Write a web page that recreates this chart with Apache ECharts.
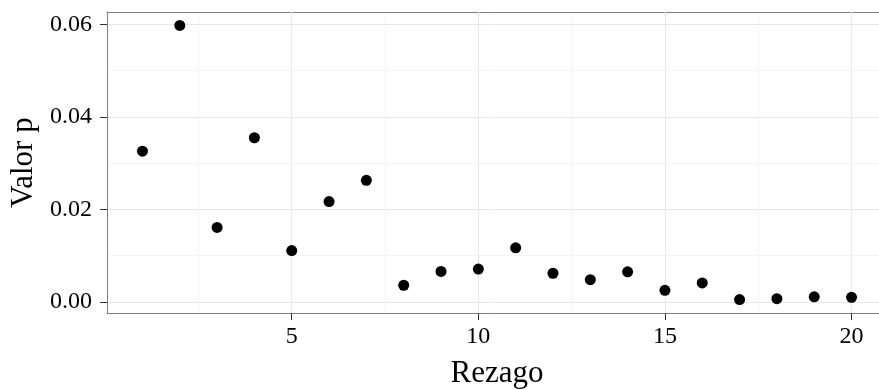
<!DOCTYPE html>
<html>
<head>
    <meta charset="utf-8">
    <title>Valor p por rezago</title>
    <script src="https://cdn.jsdelivr.net/npm/echarts@6/dist/echarts.min.js"></script>
    <style>
        html, body { margin: 0; padding: 0; background: #fff; }
        #chart { width: 879px; height: 390px; }
    </style>
</head>
<body>
    <div id="chart"></div>

    <script type="text/javascript">
        // datos
        var rezagos = [1, 2, 3, 4, 5, 6, 7, 8, 9, 10, 11, 12, 13, 14, 15, 16, 17, 18, 19, 20];
        var valoresP = [0.0326, 0.0598, 0.0161, 0.0355, 0.0111, 0.0217, 0.0263, 0.0036, 0.0066, 0.0071,
                        0.0117, 0.0062, 0.0048, 0.0065, 0.0025, 0.0041, 0.0005, 0.0007, 0.0011, 0.0010];
        var xTicks = [5, 10, 15, 20];
        var xMinor = [2.5, 7.5, 12.5, 17.5];
        var yTicks = [0, 0.02, 0.04, 0.06];
        var yMinor = [0.01, 0.03, 0.05];

        var puntos = [];
        for (var i = 0; i < rezagos.length; i++) {
            puntos.push([rezagos[i], valoresP[i]]);
        }

        var fuente = '"Liberation Serif", "DejaVu Serif", serif';
        var borde = '#7f7f7f';
        var mayor = '#e8e8e8';
        var menor = '#f4f4f4';

        var myChart = echarts.init(document.getElementById('chart'));

        myChart.setOption({
            animation: false,
            grid: {
                left: 107,
                top: 12,
                width: 780,
                height: 301,
                containLabel: false,
                outerBoundsMode: 'none'
            },
            xAxis: [
                {
                    type: 'value',
                    min: 0.05,
                    max: 20.95,
                    name: 'Rezago',
                    nameLocation: 'middle',
                    nameGap: 45,
                    nameTextStyle: { fontFamily: fuente, fontSize: 31, color: '#000' },
                    axisLine: { show: true, onZero: false, lineStyle: { color: borde, width: 1 } },
                    splitLine: { show: true, lineStyle: { color: mayor, width: 1 } },
                    axisTick: {
                        show: true,
                        customValues: xTicks,
                        length: 7,
                        lineStyle: { color: '#333', width: 1 }
                    },
                    axisLabel: {
                        customValues: xTicks,
                        margin: 12,
                        fontFamily: fuente,
                        fontSize: 24,
                        color: '#000'
                    },
                    z: 2
                },
                {
                    // borde superior y lineas menores verticales
                    type: 'value',
                    position: 'top',
                    min: 0.05,
                    max: 20.95,
                    axisLine: { show: true, onZero: false, lineStyle: { color: borde, width: 1 } },
                    axisTick: { show: false, customValues: xMinor },
                    axisLabel: { show: false, customValues: xMinor },
                    splitLine: { show: true, lineStyle: { color: menor, width: 1 } },
                    z: 1
                }
            ],
            yAxis: [
                {
                    type: 'value',
                    min: -0.0024,
                    max: 0.0627,
                    name: 'Valor p',
                    nameLocation: 'middle',
                    nameRotate: 90,
                    nameGap: 67,
                    nameTextStyle: { fontFamily: fuente, fontSize: 31, color: '#000' },
                    axisLine: { show: true, onZero: false, lineStyle: { color: borde, width: 1 } },
                    splitLine: { show: true, lineStyle: { color: mayor, width: 1 } },
                    axisTick: {
                        show: true,
                        customValues: yTicks,
                        length: 7,
                        lineStyle: { color: '#333', width: 1 }
                    },
                    axisLabel: {
                        customValues: yTicks,
                        margin: 15,
                        fontFamily: fuente,
                        fontSize: 24,
                        color: '#000',
                        formatter: function (v) { return v.toFixed(2); }
                    },
                    z: 2
                },
                {
                    // lineas menores horizontales
                    type: 'value',
                    position: 'right',
                    min: -0.0024,
                    max: 0.0627,
                    axisLine: { show: false, onZero: false },
                    axisTick: { show: false, customValues: yMinor },
                    axisLabel: { show: false, customValues: yMinor },
                    splitLine: { show: true, lineStyle: { color: menor, width: 1 } },
                    z: 1
                }
            ],
            series: [
                {
                    name: 'Valor p',
                    type: 'scatter',
                    data: puntos,
                    symbol: 'circle',
                    symbolSize: 11,
                    itemStyle: { color: '#000', opacity: 1 },
                    z: 5
                }
            ]
        });
    </script>
</body>
</html>
